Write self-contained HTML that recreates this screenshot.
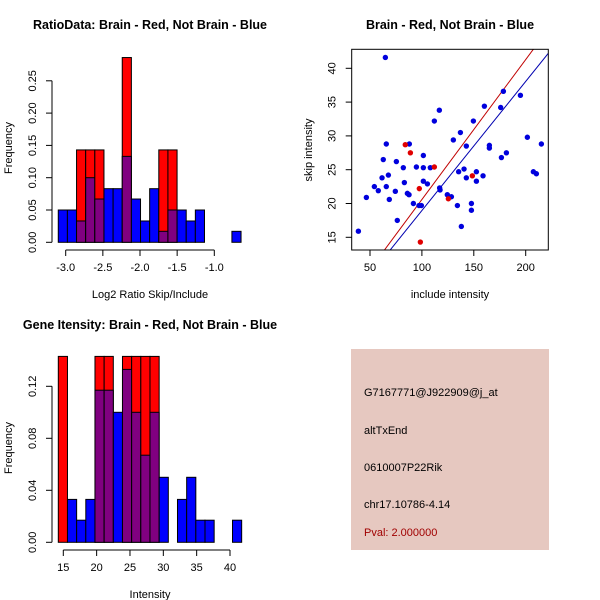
<!DOCTYPE html>
<html><head><meta charset="utf-8"><style>
body{margin:0;background:#fff}
svg{display:block;font-family:"Liberation Sans",sans-serif}
</style></head><body>
<svg id="s" width="600" height="600" viewBox="0 0 600 600">
<rect x="351" y="349" width="198" height="201" fill="#e6c8c0"/>
<g font-size="11" fill="#000">
<text x="364" y="396">G7167771@J922909@j_at</text>
<text x="364" y="434">altTxEnd</text>
<text x="364" y="471">0610007P22Rik</text>
<text x="364" y="508">chr17.10786-4.14</text>
<text x="364" y="536" fill="#a00000">Pval: 2.000000</text>
</g>
</svg>
<script>
// Ratio histogram data
const ratioStart=-3.1, ratioWidth=0.123;
const ratioBlue=[0.05,0.05,0.033,0.1,0.067,0.083,0.083,0.133,0.067,0.033,0.083,0.017,0.05,0.05,0.033,0.05,0,0,0,0.017];
const ratioRed=[0,0,0.143,0.143,0.143,0,0,0.286,0,0,0,0.143,0.143,0,0,0,0,0,0,0];
const ratioXTicks=[-3.0,-2.5,-2.0,-1.5,-1.0];
const ratioYTicks=[0,0.05,0.10,0.15,0.20,0.25];
// Intensity histogram data
const intStart=14.25, intWidth=1.375;
const intBlue=[0,0.033,0.017,0.033,0.117,0.117,0.1,0.133,0.1,0.067,0.1,0.05,0,0.033,0.05,0.017,0.017,0,0,0.017];
const intRed=[0.143,0,0,0,0.143,0.143,0,0.143,0.143,0.143,0.143,0,0,0,0,0,0,0,0,0];
const intXTicks=[15,20,25,30,35,40];
const intYTicks=[0,0.04,0.08,0.12];
// Scatter data
const blueX=[64.8,38.8,46.5,54.2,58,61.6,62.8,65.7,65.7,67.7,68.6,74.4,75.4,76.3,82.1,83.1,86,87.6,87.9,91.8,94.7,97.2,99.5,101.4,101.4,101.4,105.3,108.1,112,116.8,117.1,117.5,124.5,128.4,130.3,134.2,135.4,137.1,138,140.6,142.8,142.8,147.7,147.7,149.6,152.5,152.5,158.9,160.2,165,165,175.9,176.6,178.5,181.4,194.9,201.6,207.4,210.3,215.1];
const blueY=[41.6,15.9,20.9,22.5,21.9,23.8,26.5,22.5,28.8,24.2,20.6,21.8,26.2,17.5,25.3,23.1,21.5,21.3,28.8,20,25.4,19.7,19.7,27.1,23.3,25.3,22.9,25.3,32.2,33.8,22.3,22,21.3,21,29.4,19.7,24.7,30.5,16.6,25.1,28.5,23.8,20,19,32.2,24.7,23.3,24.1,34.4,28.6,28.2,34.2,26.8,36.6,27.5,36,29.8,24.7,24.4,28.8];
const redX=[84,88.9,97.5,112,125.5,148.6,98.5];
const redY=[28.7,27.5,22.2,25.4,20.7,24.1,14.3];
const redLine=[-0.11,0.207], blueLine=[-0.14,0.191];
const scXTicks=[50,100,150,200];
const scYTicks=[15,20,25,30,35,40];

const NS='http://www.w3.org/2000/svg', svg=document.getElementById('s');
function el(t,a,p){const e=document.createElementNS(NS,t);for(const k in a)e.setAttribute(k,a[k]);(p||svg).appendChild(e);return e;}
function txt(x,y,s,a,p){const e=el('text',Object.assign({x:x,y:y},a||{}),p);e.textContent=s;return e;}

function hist(o){
  const g=el('g',{});
  
  
  const sx=v=>o.x0+(v-o.xv0)*o.kx, sy=v=>o.y0-v*o.ky;
  for(let i=0;i<o.blue.length;i++){
    const a=o.start+i*o.w, b=a+o.w, x1=sx(a), x2=sx(b);
    const bl=o.blue[i], rd=o.red[i];
    const hi=Math.max(bl,rd), lo=Math.min(bl,rd);
    if(hi<=0) continue;
    const r=el('rect',{x:x1,y:sy(hi),width:x2-x1,height:sy(0)-sy(hi),fill:rd>bl?'#ff0000':'#0000ff',stroke:'#000','stroke-width':1},g);
    
    
    if(lo>0){
      const p=el('rect',{x:x1,y:sy(lo),width:x2-x1,height:sy(0)-sy(lo),fill:'#800080',stroke:'#000','stroke-width':1},g);
      
      
    }
  }
  const ax=el('g',{stroke:'#000','stroke-width':1,fill:'none'},g);
  
  
  const xt=o.xticks;
  el('line',{x1:sx(xt[0]),x2:sx(xt[xt.length-1]),y1:o.axY,y2:o.axY},ax);
  xt.forEach(v=>{el('line',{x1:sx(v),x2:sx(v),y1:o.axY,y2:o.axY+6},ax);
    const t=txt(sx(v),o.axY+21,o.fmtX(v),{'font-size':11,'text-anchor':'middle'},g);
    });
  const ay=el('g',{stroke:'#000','stroke-width':1},g);
  
  
  const yt=o.yticks;
  el('line',{x1:o.axX,x2:o.axX,y1:sy(yt[0]),y2:sy(yt[yt.length-1])},ay);
  yt.forEach(v=>{el('line',{x1:o.axX,x2:o.axX-6,y1:sy(v),y2:sy(v)},ay);
    const lx=o.axX-16;
    const t=txt(lx,sy(v),o.fmtY(v),{'font-size':11,'text-anchor':'middle',transform:`rotate(-90 ${lx} ${sy(v)})`},g);
    });
  const tt=txt(150,o.titleY,o.title,{'font-size':12.5,'font-weight':'bold','text-anchor':'middle'},g);
  
  const xlab=txt(150,o.axY+48,o.xlabel,{'font-size':11,'text-anchor':'middle'},g);
  
  const ylab=txt(12,o.ylabY,'Frequency',{'font-size':11,'text-anchor':'middle',transform:`rotate(-90 12 ${o.ylabY})`},g);
  
}
hist({name:'ratio-histogram',blue:ratioBlue,red:ratioRed,start:ratioStart,w:ratioWidth,x0:65.7,xv0:-3.0,kx:74.3,y0:242.3,ky:646,axY:250,axX:52,
 xticks:ratioXTicks,yticks:ratioYTicks,fmtX:v=>v.toFixed(1),fmtY:v=>v.toFixed(2),title:'RatioData: Brain - Red, Not Brain - Blue',titleY:29,xlabel:'Log2 Ratio Skip/Include',ylabY:148});
hist({name:'intensity-histogram',blue:intBlue,red:intRed,start:intStart,w:intWidth,x0:63.3,xv0:15,kx:6.668,y0:542.3,ky:1300,axY:550,axX:52,
 xticks:intXTicks,yticks:intYTicks,fmtX:v=>String(v),fmtY:v=>v.toFixed(2),title:'Gene Itensity: Brain - Red, Not Brain - Blue',titleY:329,xlabel:'Intensity',ylabY:448});

(function(){
  const g=el('g',{});
  
  
  const sx=v=>370+(v-50)*1.038, sy=v=>237.3-(v-15)*6.76;
  const L=351.7,R=548.3,T=49.3,B=250;
  const cp=el('clipPath',{id:'cp'},g); el('rect',{x:L,y:T,width:R-L,height:B-T},cp);
  [[redLine,'#c00000','red-fit-line'],[blueLine,'#0000b0','blue-fit-line']].forEach(([ln,c,n])=>{
    const xa=20,xb=260;
    const l=el('line',{x1:sx(xa),y1:sy(ln[0]+ln[1]*xa),x2:sx(xb),y2:sy(ln[0]+ln[1]*xb),stroke:c,'stroke-width':1,'clip-path':'url(#cp)'},g);
    
  });
  blueX.forEach((x,i)=>{const c=el('circle',{cx:sx(x),cy:sy(blueY[i]),r:2.7,fill:'#0000dd'},g);
    });
  redX.forEach((x,i)=>{const c=el('circle',{cx:sx(x),cy:sy(redY[i]),r:2.7,fill:'#e00000'},g);
    });
  const box=el('rect',{x:L,y:T,width:R-L,height:B-T,fill:'none',stroke:'#000'},g);
  
  scXTicks.forEach(v=>{el('line',{x1:sx(v),x2:sx(v),y1:B,y2:B+6,stroke:'#000'},g);
    const t=txt(sx(v),B+21,String(v),{'font-size':11,'text-anchor':'middle'},g);
    });
  scYTicks.forEach(v=>{el('line',{x1:L,x2:L-6,y1:sy(v),y2:sy(v),stroke:'#000'},g);
    const lx=L-16;
    const t=txt(lx,sy(v),String(v),{'font-size':11,'text-anchor':'middle',transform:`rotate(-90 ${lx} ${sy(v)})`},g);
    });
  const tt=txt(450,29,'Brain - Red, Not Brain - Blue',{'font-size':12.5,'font-weight':'bold','text-anchor':'middle'},g);
  
  const xl=txt(450,298,'include intensity',{'font-size':11,'text-anchor':'middle'},g);
  
  const yl=txt(312,150,'skip intensity',{'font-size':11,'text-anchor':'middle',transform:'rotate(-90 312 150)'},g);
  
})();
</script>
</body></html>
